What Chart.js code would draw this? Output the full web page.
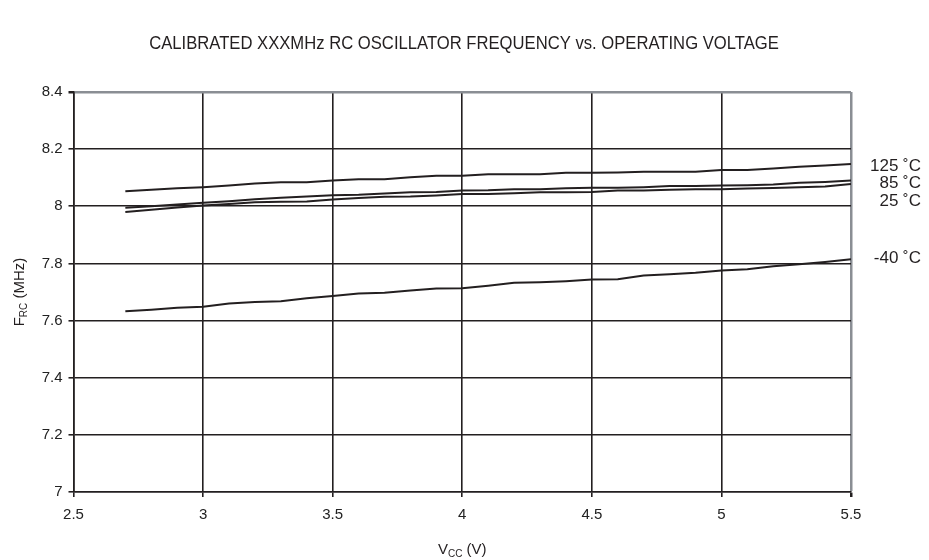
<!DOCTYPE html>
<html>
<head>
<meta charset="utf-8">
<script src="https://cdn.jsdelivr.net/npm/chart.js@4.4.1/dist/chart.umd.min.js"></script>
<style>
    html, body { margin: 0; padding: 0; background: #fff; }
    #wrap { width: 929px; height: 560px; }
</style>
</head>
<body>
<div id="wrap"><canvas id="freqChart" width="929" height="560"></canvas></div>
<script>
// supply voltage (V)
const vcc = [2.7, 2.8, 2.9, 3.0, 3.1, 3.2, 3.3, 3.4, 3.5, 3.6, 3.7, 3.8, 3.9, 4.0, 4.1,
    4.2, 4.3, 4.4, 4.5, 4.6, 4.7, 4.8, 4.9, 5.0, 5.1, 5.2, 5.3, 5.4, 5.5];

// oscillator frequency (MHz) per temperature
const freq125 = [8.053, 8.058, 8.063, 8.067, 8.073, 8.080, 8.084, 8.084, 8.090, 8.095, 8.095, 8.102, 8.107, 8.107, 8.112,
    8.112, 8.112, 8.117, 8.117, 8.118, 8.121, 8.121, 8.121, 8.127, 8.127, 8.132, 8.138, 8.143, 8.148];
const freq85 = [7.995, 8.000, 8.006, 8.012, 8.018, 8.025, 8.030, 8.034, 8.039, 8.040, 8.045, 8.049, 8.050, 8.055, 8.056,
    8.060, 8.060, 8.063, 8.065, 8.065, 8.067, 8.071, 8.071, 8.073, 8.074, 8.076, 8.082, 8.085, 8.090];
const freq25 = [7.980, 7.988, 7.996, 8.003, 8.008, 8.014, 8.016, 8.017, 8.024, 8.029, 8.033, 8.034, 8.038, 8.043, 8.043,
    8.046, 8.049, 8.049, 8.050, 8.055, 8.055, 8.058, 8.060, 8.060, 8.062, 8.064, 8.067, 8.069, 8.078];
const freqM40 = [7.633, 7.638, 7.645, 7.648, 7.660, 7.665, 7.668, 7.678, 7.686, 7.695, 7.697, 7.705, 7.712, 7.713, 7.722,
    7.732, 7.734, 7.738, 7.744, 7.745, 7.758, 7.762, 7.767, 7.775, 7.780, 7.790, 7.797, 7.805, 7.815];

const seriesLabels = ['125 \u02DAC', '85 \u02DAC', '25 \u02DAC', '-40 \u02DAC'];
// where each series label sits, in MHz
const labelAt = [8.141, 8.081, 8.018, 7.819];

const xTicks = [2.5, 3, 3.5, 4, 4.5, 5, 5.5];

const FONT = '"Liberation Sans", Arial, sans-serif';
const INK = '#231f20';
const EDGE = '#8a8e94';

const toPoints = (ys) => ys.map((y, i) => ({ x: vcc[i], y }));

// title, axis titles with subscripts, and series labels
const textPlugin = {
    id: 'textPlugin',
    afterDraw(chart) {
        const { ctx, chartArea, scales } = chart;
        ctx.save();
        ctx.fillStyle = INK;

        ctx.font = '16px ' + FONT;
        ctx.textAlign = 'center';
        ctx.textBaseline = 'middle';
        ctx.save();
        ctx.translate(464, 44);
        ctx.scale(1.04, 1.1);
        ctx.fillText('CALIBRATED XXXMHz RC OSCILLATOR FREQUENCY vs. OPERATING VOLTAGE', 0, 0);
        ctx.restore();

        const drawSub = (parts, x, y) => {
            // parts: [text, sub, text]
            ctx.textAlign = 'left';
            ctx.font = '15px ' + FONT;
            const w0 = ctx.measureText(parts[0]).width;
            const w2 = ctx.measureText(parts[2]).width;
            ctx.font = '10px ' + FONT;
            const w1 = ctx.measureText(parts[1]).width;
            let cx = x - (w0 + w1 + w2) / 2;
            ctx.font = '15px ' + FONT;
            ctx.fillText(parts[0], cx, y);
            cx += w0;
            ctx.font = '10px ' + FONT;
            ctx.fillText(parts[1], cx, y + 4);
            cx += w1;
            ctx.font = '15px ' + FONT;
            ctx.fillText(parts[2], cx, y);
        };
        ctx.textBaseline = 'middle';
        drawSub(['V', 'CC', ' (V)'], (chartArea.left + chartArea.right) / 2, 550);

        ctx.save();
        ctx.translate(20, (chartArea.top + chartArea.bottom) / 2);
        ctx.rotate(-Math.PI / 2);
        drawSub(['F', 'RC', ' (MHz)'], 0, 0);
        ctx.restore();

        ctx.font = '17px ' + FONT;
        ctx.textAlign = 'right';
        ctx.textBaseline = 'middle';
        seriesLabels.forEach((txt, i) => {
            ctx.fillText(txt, chartArea.right + 70, scales.y.getPixelForValue(labelAt[i]));
        });
        ctx.restore();
    }
};

const makeSet = (label, data) => ({
    label,
    data: toPoints(data),
    borderColor: INK,
    borderWidth: 2,
    pointRadius: 0,
    tension: 0,
    fill: false,
});

new Chart(document.getElementById('freqChart'), {
    type: 'line',
    data: {
        datasets: [
            makeSet(seriesLabels[0], freq125),
            makeSet(seriesLabels[1], freq85),
            makeSet(seriesLabels[2], freq25),
            makeSet(seriesLabels[3], freqM40),
        ]
    },
    options: {
        responsive: false,
        animation: false,
        devicePixelRatio: 1,
        layout: { padding: { top: 92, right: 78, left: 0, bottom: 0 } },
        plugins: {
            legend: { display: false },
            title: { display: false },
            tooltip: { enabled: false },
        },
        scales: {
            x: {
                type: 'linear',
                min: 2.5,
                max: 5.5,
                afterBuildTicks: (axis) => { axis.ticks = xTicks.map(v => ({ value: v })); },
                afterFit: (axis) => { axis.height = 68; },
                grid: {
                    color: (c) => (c.tick && c.tick.value === 5.5 ? EDGE : INK),
                    lineWidth: (c) => (c.tick && c.tick.value === 5.5 ? 2.5 : 1.6),
                    tickColor: INK,
                    tickLength: 5,
                    drawOnChartArea: true,
                },
                border: { color: INK, width: 1.6 },
                ticks: {
                    color: '#222',
                    font: { family: FONT, size: 15 },
                    padding: 9,
                    maxRotation: 0,
                    callback: (v) => String(v),
                },
            },
            y: {
                min: 7,
                max: 8.4,
                afterFit: (axis) => { axis.width = 73.5; },
                ticks: {
                    stepSize: 0.2,
                    color: '#222',
                    font: { family: FONT, size: 15 },
                    padding: 6,
                    callback: (v) => String(+(+v).toFixed(1)),
                },
                grid: {
                    color: (c) => (c.tick && Math.abs(c.tick.value - 8.4) < 1e-6 ? EDGE : INK),
                    lineWidth: (c) => (c.tick && Math.abs(c.tick.value - 8.4) < 1e-6 ? 2.5 : 1.6),
                    tickColor: INK,
                    tickLength: 5,
                },
                border: { color: INK, width: 1.6 },
            }
        }
    },
    plugins: [textPlugin]
});
</script>
</body>
</html>
